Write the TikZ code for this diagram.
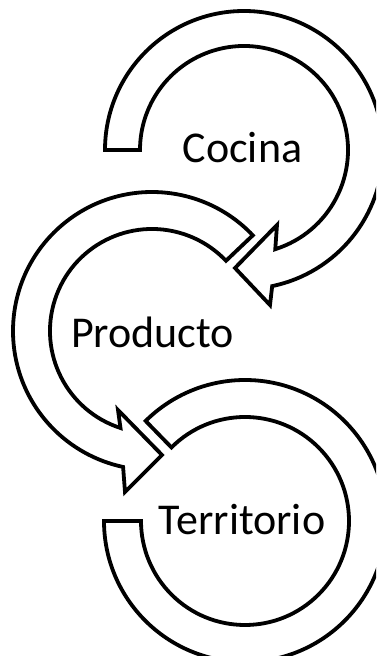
\documentclass[tikz,border=0pt]{standalone}
\usepackage{fontspec}
\setmainfont{Carlito}
\usetikzlibrary{calc}
\begin{document}
\begin{tikzpicture}[x=1pt,y=1pt,
  band/.style={draw=black,fill=white,line width=3.8pt,line join=miter,miter limit=6},
  lbl/.style={anchor=base,inner sep=0pt,font=\fontsize{44}{52}\selectfont}]
\useasboundingbox (0,0) rectangle (376,656);
\clip (0,0) rectangle (376,656);
\coordinate (C1) at (244,506);
\coordinate (C2) at (152,325);
\coordinate (C3) at (245,135);
% top arrow (Cocina)
\draw[band] ($(C1)+(180:139)$) arc[start angle=180,end angle=-78.3,radius=139]
  -- (270,351) -- (235,388) -- (277,431)
  -- ($(C1)+(-72.5:104)$) arc[start angle=-72.5,end angle=180,radius=104] -- cycle;
% middle arrow (Producto)
\draw[band] ($(C2)+(43.5:139)$) arc[start angle=43.5,end angle=258,radius=139]
  -- (125,164) -- (162,201) -- (118,246)
  -- ($(C2)+(252:102)$) arc[start angle=252,end angle=43.5,radius=102] -- cycle;
% bottom arc (Territorio)
\draw[band] ($(C3)+(180:141)$) arc[start angle=180,end angle=494.8,radius=141]
  -- ($(C3)+(135:104)$) arc[start angle=495,end angle=180,radius=104] -- cycle;
\node[lbl] (cocina) at (242.5,493) {Cocina};
\node[lbl] (producto) at (152.5,308) {Producto};
\node[lbl] (territorio) at (242,121) {Territorio};
\end{tikzpicture}
\end{document}
